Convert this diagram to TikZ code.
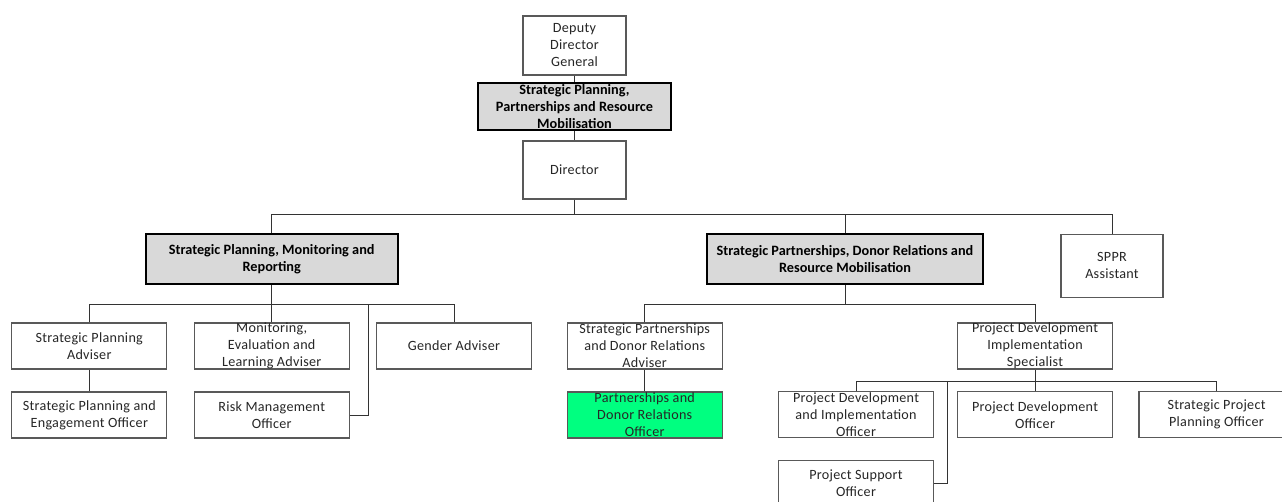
\documentclass[tikz,border=0pt]{standalone}
\usepackage{fontspec}
\setmainfont{Carlito}
\begin{document}
\begin{tikzpicture}[x=0.75pt,y=-0.75pt,
  box/.style={draw=black!65, line width=0.8pt, fill=white, inner sep=0pt, minimum width=116.25pt, minimum height=34.5pt},
  head/.style={draw=black, line width=1.5pt, fill=black!15, inner sep=0pt},
  txt/.style={align=center, inner sep=0pt, font=\fontsize{10.6}{12.75}\selectfont\addfontfeature{LetterSpace=2}, text=black!85},
  btxt/.style={align=center, inner sep=0pt, font=\bfseries\fontsize{10.7}{12.6}\selectfont},
  conn/.style={draw=black!80, line width=0.75pt}]
\useasboundingbox (0,0) rectangle (1282,501);
\fill[white] (0,0) rectangle (1282,501);
% top chain
\node[box, minimum width=77.25pt, minimum height=44.25pt, label={[txt]center:Deputy\\Director\\General}] (ddg) at (574.5,45.5) {};
\node[head, minimum width=144.75pt, minimum height=35.25pt, label={[btxt]center:Strategic Planning,\\Partnerships and Resource\\Mobilisation}] (spprm) at (574.5,106.5) {};
\node[box, minimum width=77.25pt, minimum height=43.5pt, label={[txt]center:Director}] (dir) at (574.5,170) {};
% level 2
\node[head, minimum width=189pt, minimum height=37.5pt, label={[btxt]center:Strategic Planning, Monitoring and\\Reporting}] (spmr) at (271.7,259.3) {};
\node[head, minimum width=207pt, minimum height=37.5pt, label={[btxt]center:Strategic Partnerships, Donor Relations and\\Resource Mobilisation}] (spdrrm) at (845,259.3) {};
\node[box, minimum width=76.5pt, minimum height=47.25pt, label={[txt]center:SPPR\\Assistant}] (sppra) at (1112,265.8) {};
% SPMR children
\node[box, label={[txt]center:Strategic Planning\\Adviser}] (spa) at (89.3,346) {};
\node[box, label={[txt]center:Monitoring,\\Evaluation and\\Learning Adviser}] (mel) at (271.7,346) {};
\node[box, label={[txt]center:Gender Adviser}] (gen) at (454,346) {};
\node[box, label={[txt]center:Strategic Planning and\\Engagement Officer}] (spe) at (89.3,415) {};
\node[box, label={[txt]center:Risk Management\\Officer}] (risk) at (271.7,415) {};
% SPDRRM children
\node[box, label={[txt]center:Strategic Partnerships\\and Donor Relations\\Adviser}] (spdra) at (644.7,346) {};
\node[box, fill={rgb,255:red,0;green,255;blue,128}, label={[txt]center:Partnerships and\\Donor Relations\\Officer}] (pdro) at (644.7,415) {};
\node[box, label={[txt]center:Project Development\\Implementation\\Specialist}] (pdis) at (1035,346) {};
\node[box, label={[txt]center:Project Development\\and Implementation\\Officer}] (pdio) at (856,414.7) {};
\node[box, label={[txt]center:Project Development\\Officer}] (pdo) at (1035,414.7) {};
\node[box, label={[txt]center:Strategic Project\\Planning Officer}] (sppo) at (1216.5,414.7) {};
\node[box, label={[txt]center:Project Support\\Officer}] (pso) at (856,483.3) {};
% bus coordinates
\coordinate (b1) at (574.5,214);
\coordinate (b2) at (368.3,304.3);
\coordinate (b3) at (845,304.3);
\coordinate (b4) at (947.7,381.7);
% connectors
\draw[conn] (ddg) -- (spprm);
\draw[conn] (spprm) -- (dir);
\draw[conn] (dir.south) -- (dir.south |- b1);
\draw[conn] (spmr.north) -- (spmr.north |- b1) -- (sppra.north |- b1) -- (sppra.north);
\draw[conn] (spdrrm.north) -- (spdrrm.north |- b1);
\draw[conn] (spmr.south) -- (spmr.south |- b2);
\draw[conn] (spa.north) -- (spa.north |- b2) -- (gen.north |- b2) -- (gen.north);
\draw[conn] (mel.north) -- (mel.north |- b2);
\draw[conn] (b2) |- (risk.east);
\draw[conn] (spa) -- (spe);
\draw[conn] (spdrrm.south) -- (b3);
\draw[conn] (spdra.north) -- (spdra.north |- b3) -- (pdis.north |- b3) -- (pdis.north);
\draw[conn] (spdra) -- (pdro);
\draw[conn] (pdis.south) -- (pdis.south |- b4);
\draw[conn] (pdio.north) -- (pdio.north |- b4) -- (sppo.north |- b4) -- (sppo.north);
\draw[conn] (pdo.north) -- (pdo.north |- b4);
\draw[conn] (b4) |- (pso.east);
\end{tikzpicture}
\end{document}
